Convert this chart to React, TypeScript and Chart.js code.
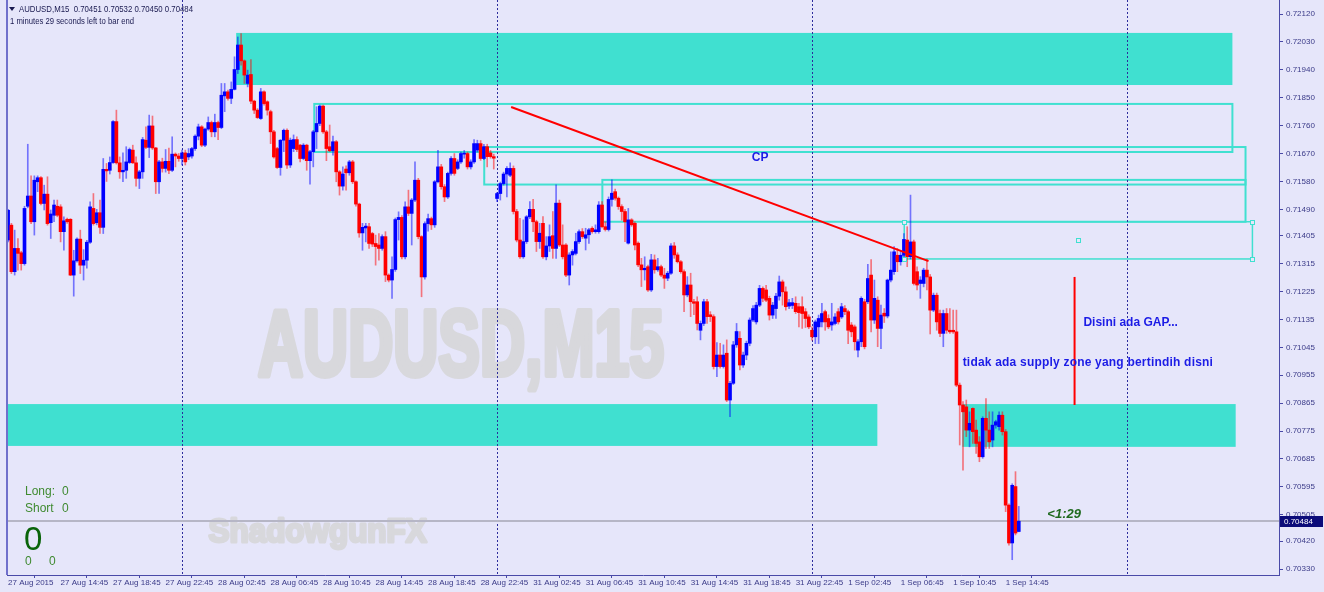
import React, { useEffect, useRef } from 'react';
import { Chart, registerables } from 'chart.js';
Chart.register(...registerables);

// ---- DATA (prices in points: price x 100000), one entry per M15 bar starting 27 Aug 2015 10:45 ----
const openPts = [
  71391,71439,71289,71364,71350,71315,71500,71533,71450,71579,
  71592,71509,71539,71447,71471,71500,71498,71418,71458,71458,
  71278,71324,71394,71310,71326,71384,71493,71447,71479,71432,
  71619,71616,71641,71773,71640,71611,71616,71641,71681,71640,
  71590,71611,71713,71690,71759,71688,71579,71643,71622,71645,
  71616,71668,71662,71654,71672,71659,71662,71686,71726,71756,
  71697,71749,71770,71740,71770,71754,71856,71869,71848,71877,
  71941,72020,71969,71896,71925,71839,71810,71783,71869,71837,
  71805,71740,71686,71625,71713,71745,71633,71686,71715,71697,
  71654,71697,71647,71676,71740,71767,71823,71740,71692,71679,
  71708,71611,71565,71620,71608,71643,71579,71507,71414,71430,
  71434,71412,71380,71375,71364,71402,71278,71262,71296,71457,
  71464,71337,71498,71477,71520,71584,71402,71272,71444,71460,
  71440,71579,71627,71563,71530,71606,71654,71622,71643,71668,
  71670,71627,71643,71681,71702,71654,71692,71672,71660,71525,
  71541,71573,71604,71600,71622,71483,71391,71337,71386,71466,
  71490,71450,71386,71445,71337,71372,71405,71364,71510,71375,
  71375,71278,71343,71348,71386,71418,71397,71408,71429,71418,
  71418,71504,71434,71425,71522,71547,71526,71499,71483,71381,
  71456,71445,71381,71311,71295,71305,71230,71327,71295,71305,
  71278,71268,71284,71372,71343,71321,71289,71214,71246,71192,
  71192,71100,71122,71192,71150,71144,70983,71020,70983,71026,
  70875,70929,71053,71074,70988,71020,71058,71133,71127,71181,
  71235,71230,71203,71149,71170,71210,71256,71224,71178,71180,
  71187,71176,71176,71160,71143,71100,71079,71111,71127,71160,
  71138,71117,71122,71160,71143,71170,71160,71117,71111,71036,
  71063,71192,71192,71278,71133,71197,71106,71155,71146,71262,
  71289,71342,71321,71342,71391,71337,71385,71289,71251,71251,
  71294,71272,71165,71213,71154,71090,71154,71100,71100,71095,
  70923,70859,70853,70778,70848,70778,70740,70692,70816,70778,
  70746,70794,70789,70826,70773,70536,70414,70596,70451,
];
const highPts = [
  71490,71445,71423,71396,71355,71500,71700,71598,71598,71598,
  71596,71568,71595,71488,71520,71520,71505,71466,71462,71460,
  71358,71398,71423,71360,71390,71514,71541,71490,71520,71654,
  71638,71659,71776,71810,71659,71672,71692,71688,71697,71659,
  71616,71722,71756,71794,71791,71690,71648,71655,71683,71688,
  71724,71672,71670,71681,71681,71686,71690,71730,71765,71760,
  71752,71788,71775,71797,71775,71896,71896,71875,71901,71982,
  72046,72057,71972,71939,71973,71842,71815,71880,71872,71840,
  71810,71745,71690,71715,71749,71750,71720,71730,71724,71700,
  71702,71700,71680,71745,71821,71826,71826,71745,71762,71726,
  71712,71615,71627,71630,71648,71648,71582,71510,71445,71445,
  71445,71416,71407,71412,71408,71418,71282,71337,71462,71482,
  71470,71514,71552,71525,71643,71590,71405,71450,71475,71465,
  71583,71680,71635,71570,71610,71660,71670,71650,71675,71680,
  71675,71650,71715,71713,71712,71700,71700,71680,71668,71545,
  71578,71610,71628,71640,71630,71490,71461,71456,71470,71515,
  71522,71455,71445,71467,71402,71440,71483,71569,71520,71440,
  71380,71350,71360,71413,71424,71428,71429,71429,71434,71440,
  71515,71515,71450,71530,71585,71555,71530,71505,71490,71493,
  71460,71450,71385,71332,71337,71310,71345,71343,71332,71310,
  71300,71290,71380,71383,71350,71325,71295,71273,71284,71200,
  71208,71130,71200,71200,71160,71150,71060,71058,71053,71069,
  70935,71064,71122,71096,71030,71065,71140,71180,71190,71245,
  71240,71245,71210,71190,71219,71275,71262,71240,71200,71203,
  71208,71187,71208,71170,71150,71111,71133,71149,71187,71165,
  71150,71187,71154,71170,71187,71180,71165,71125,71117,71070,
  71208,71200,71313,71328,71262,71208,71181,71170,71265,71353,
  71370,71364,71358,71412,71434,71536,71391,71305,71273,71300,
  71330,71280,71220,71220,71165,71165,71170,71170,71165,71165,
  70930,70870,70875,70837,70850,70810,70757,70821,70880,70837,
  70837,70810,70837,70837,70780,70540,70605,70644,70532,
];
const lowPts = [
  71385,71283,71278,71294,71294,71310,71495,71444,71407,71547,
  71504,71488,71439,71396,71450,71466,71385,71358,71445,71276,
  71210,71320,71283,71262,71300,71380,71439,71440,71412,71412,
  71580,71604,71638,71636,71590,71579,71590,71638,71638,71565,
  71557,71590,71686,71657,71683,71541,71541,71610,71610,71605,
  71612,71627,71645,71633,71633,71650,71655,71680,71714,71692,
  71692,71745,71724,71724,71715,71750,71805,71842,71831,71875,
  71928,71955,71896,71885,71831,71799,71783,71780,71826,71794,
  71702,71655,71622,71600,71676,71622,71625,71676,71676,71643,
  71650,71616,71571,71627,71686,71760,71735,71647,71676,71665,
  71579,71536,71552,71552,71600,71573,71500,71400,71358,71385,
  71364,71370,71310,71326,71358,71257,71256,71203,71290,71391,
  71330,71330,71470,71375,71515,71395,71208,71265,71420,71425,
  71432,71575,71555,71515,71525,71600,71600,71618,71638,71655,
  71620,71620,71638,71675,71648,71650,71627,71655,71620,71515,
  71520,71568,71530,71595,71475,71385,71332,71332,71380,71460,
  71418,71354,71364,71332,71327,71354,71332,71332,71370,71330,
  71273,71246,71310,71343,71380,71396,71359,71380,71413,71413,
  71413,71430,71420,71420,71500,71520,71490,71455,71386,71378,
  71435,71359,71305,71241,71262,71225,71225,71284,71290,71273,
  71235,71260,71280,71332,71317,71284,71160,71208,71144,71150,
  71101,71069,71115,71122,71128,70975,70950,70978,70978,70870,
  70821,70925,71045,70972,70980,71005,71050,71128,71120,71176,
  71192,71192,71133,71138,71138,71197,71181,71165,71170,71170,
  71154,71111,71106,71109,71105,71068,71057,71057,71111,71100,
  71105,71100,71117,71120,71138,71150,71057,71079,71036,71014,
  71047,71040,71186,71095,71122,71047,71041,71125,71140,71256,
  71280,71289,71310,71321,71305,71330,71246,71230,71203,71240,
  71230,71088,71160,71100,71079,71047,71090,71090,71090,70918,
  70730,70649,70757,70724,70735,70703,70676,70687,70719,70719,
  70724,70784,70778,70762,70515,70407,70360,70440,70450,
];
const closePts = [
  71487,71289,71364,71348,71315,71493,71533,71450,71584,71592,
  71509,71539,71444,71475,71504,71471,71418,71453,71450,71278,
  71324,71394,71310,71326,71384,71498,71444,71479,71432,71619,
  71614,71641,71773,71640,71611,71616,71643,71683,71640,71590,
  71611,71715,71690,71759,71688,71579,71643,71622,71645,71616,
  71668,71662,71654,71672,71643,71670,71686,71726,71756,71697,
  71749,71770,71740,71770,71754,71858,71869,71848,71877,71941,
  72020,71969,71923,71923,71839,71810,71786,71869,71831,71810,
  71740,71659,71625,71713,71745,71633,71713,71715,71683,71654,
  71697,71647,71676,71740,71767,71823,71740,71686,71679,71708,
  71611,71565,71604,71608,71643,71579,71507,71414,71432,71436,
  71380,71378,71370,71364,71402,71278,71262,71296,71457,71464,
  71337,71498,71477,71520,71584,71402,71272,71444,71460,71440,
  71579,71627,71563,71530,71606,71654,71606,71643,71670,71670,
  71627,71643,71702,71702,71654,71692,71660,71660,71655,71541,
  71573,71604,71622,71622,71483,71391,71337,71386,71466,71490,
  71450,71386,71413,71337,71372,71402,71364,71510,71375,71337,
  71278,71343,71354,71386,71418,71402,71408,71424,71418,71424,
  71504,71434,71425,71522,71542,71526,71499,71483,71450,71456,
  71440,71375,71311,71295,71300,71230,71327,71295,71305,71278,
  71268,71284,71372,71343,71321,71289,71214,71246,71192,71187,
  71122,71122,71192,71144,71144,70983,71020,70983,71020,70875,
  70929,71053,71096,70988,71020,71058,71133,71170,71181,71235,
  71203,71197,71149,71181,71210,71256,71224,71176,71189,71189,
  71160,71157,71154,71138,71111,71079,71127,71138,71154,71127,
  71111,71127,71143,71127,71176,71160,71100,71095,71063,71063,
  71203,71047,71267,71133,71203,71106,71149,71146,71262,71294,
  71353,71321,71342,71393,71337,71385,71251,71246,71262,71294,
  71272,71165,71213,71127,71090,71154,71100,71095,71095,70923,
  70859,70837,70778,70800,70773,70735,70692,70816,70778,70740,
  70794,70805,70826,70773,70536,70414,70600,70446,70484,
];

// time axis labels (one every 16 bars = 4 hours)
const xTickBars = [0,16,32,48,64,80,96,112,128,144,160,176,192,208,224,240,256,272,288,304];
const xTickLabels = [
  '27 Aug 2015','27 Aug 14:45','27 Aug 18:45','27 Aug 22:45','28 Aug 02:45','28 Aug 06:45',
  '28 Aug 10:45','28 Aug 14:45','28 Aug 18:45','28 Aug 22:45','31 Aug 02:45','31 Aug 06:45',
  '31 Aug 10:45','31 Aug 14:45','31 Aug 18:45','31 Aug 22:45','1 Sep 02:45','1 Sep 06:45',
  '1 Sep 10:45','1 Sep 14:45',
];
const yTickValues = [
  0.72120,0.72030,0.71940,0.71850,0.71760,0.71670,0.71580,0.71490,0.71405,0.71315,0.71225,
  0.71135,0.71045,0.70955,0.70865,0.70775,0.70685,0.70595,0.70505,0.70420,0.70330,
];
// day separators (bar index of 00:00)
const daySeparatorBars = [53, 149, 245, 341];
// filled supply/demand zones: [fromBar, toBar, topPrice, bottomPrice]
const filledZones = [
  [69.5, 373.1, 0.72059, 0.71891],
  [-0.4, 264.9, 0.70862, 0.70727],
  [290.8, 374.1, 0.70862, 0.70724],
];
// outlined zones
const outlineZones = [
  [93.3, 373.1, 0.71830, 0.71675],
  [145.1, 377.1, 0.71691, 0.71570],
  [181.1, 377.1, 0.71585, 0.71450],
];
const selectedZone = [273.1, 379.2, 0.71450, 0.71330];
const trendLine = [[153.3, 0.71820], [280.5, 0.71323]];
const gapLine = [[325.0, 0.71272], [325.0, 0.70859]];

const X_MIN = -0.335;
const X_MAX = 387.3;
const Y_MIN = 0.703107;
const Y_MAX = 0.721652;

const BG = '#E6E6FA';
const AXIS = '#4a4aa8';
const TICK_TXT = '#3a3a88';
const TURQ = '#40E0D0';
const FONT = '"Liberation Sans", Arial, sans-serif';

const n = Math.min(openPts.length, highPts.length, lowPts.length, closePts.length);
const idx = Array.from({ length: n }, (_, i) => i);
const P = (v: number) => v / 100000;
const isUp = (i: number) => closePts[i] >= openPts[i];

function stretchText(ctx: CanvasRenderingContext2D, text: string, left: number, baseline: number, width: number, size: number, color: string, weight: number) {
  ctx.save();
  ctx.font = `bold ${size}px ${FONT}`;
  const w = ctx.measureText(text).width + weight;
  ctx.translate(left + weight / 2, baseline - weight / 2);
  ctx.scale(width / w, 1);
  ctx.fillStyle = color;
  ctx.strokeStyle = color;
  ctx.lineWidth = weight;
  ctx.lineJoin = 'round';
  ctx.textBaseline = 'alphabetic';
  ctx.textAlign = 'left';
  ctx.fillText(text, 0, 0);
  ctx.strokeText(text, 0, 0);
  ctx.restore();
}

const overlay = {
  id: 'mt4overlay',
  beforeDraw(chart: any) {
    const ctx = chart.ctx;
    ctx.save();
    ctx.fillStyle = BG;
    ctx.fillRect(0, 0, chart.width, chart.height);
    ctx.restore();
  },
  beforeDatasetsDraw(chart: any) {
    const { ctx, chartArea: a, scales } = chart;
    const X = (v: number) => scales.x.getPixelForValue(v);
    const Y = (v: number) => scales.y.getPixelForValue(v);
    ctx.save();
    ctx.beginPath();
    ctx.rect(a.left, a.top, a.right - a.left, a.bottom - a.top);
    ctx.clip();
    // watermarks
    stretchText(ctx, 'AUDUSD,M15', 255, 378, 410, 92, '#d8d8dc', 6);
    stretchText(ctx, 'ShadowgunFX', 207, 543, 221, 34, '#d8d8dc', 3);
    // filled zones
    ctx.fillStyle = TURQ;
    for (const z of filledZones) {
      const x1 = X(z[0]), x2 = X(z[1]), y1 = Y(z[2]), y2 = Y(z[3]);
      ctx.fillRect(x1, y1, x2 - x1, y2 - y1);
    }
    // outline zones
    ctx.strokeStyle = TURQ;
    ctx.lineWidth = 2;
    for (const z of outlineZones) {
      const x1 = X(z[0]), x2 = X(z[1]), y1 = Y(z[2]), y2 = Y(z[3]);
      ctx.strokeRect(x1, y1, x2 - x1, y2 - y1);
    }
    {
      const z = selectedZone;
      const x1 = X(z[0]), x2 = X(z[1]), y1 = Y(z[2]), y2 = Y(z[3]);
      ctx.lineWidth = 1.5;
      ctx.strokeRect(x1, y1, x2 - x1, y2 - y1);
    }
    // day separators
    ctx.strokeStyle = '#2c2c9c';
    ctx.lineWidth = 1;
    ctx.setLineDash([2, 2]);
    for (const b of daySeparatorBars) {
      const x = Math.round(X(b)) + 0.5;
      ctx.beginPath();
      ctx.moveTo(x, a.top);
      ctx.lineTo(x, a.bottom);
      ctx.stroke();
    }
    ctx.setLineDash([]);
    // bid line
    const by = Math.round(Y(P(closePts[n - 1])));
    ctx.fillStyle = '#b6b6c6';
    ctx.fillRect(a.left, by - 1, a.right - a.left, 2);
    ctx.restore();
  },
  afterDatasetsDraw(chart: any) {
    const { ctx, scales } = chart;
    const X = (v: number) => scales.x.getPixelForValue(v);
    const Y = (v: number) => scales.y.getPixelForValue(v);
    ctx.save();
    // trend line
    ctx.strokeStyle = '#ff0000';
    ctx.lineWidth = 2;
    ctx.beginPath();
    ctx.moveTo(X(trendLine[0][0]), Y(trendLine[0][1]));
    ctx.lineTo(X(trendLine[1][0]), Y(trendLine[1][1]));
    ctx.stroke();
    ctx.beginPath();
    ctx.moveTo(X(gapLine[0][0]), Y(gapLine[0][1]));
    ctx.lineTo(X(gapLine[1][0]), Y(gapLine[1][1]));
    ctx.stroke();
    // handles of selected zone
    const z = selectedZone;
    const hs = [[z[0], z[2]], [z[0], z[3]], [z[1], z[2]], [z[1], z[3]], [(z[0] + z[1]) / 2, (z[2] + z[3]) / 2]];
    ctx.lineWidth = 1;
    for (const h of hs) {
      const x = Math.round(X(h[0])), y = Math.round(Y(h[1]));
      ctx.fillStyle = BG;
      ctx.fillRect(x - 2, y - 2, 4, 4);
      ctx.strokeStyle = TURQ;
      ctx.strokeRect(x - 2 + 0.5, y - 2 + 0.5, 4, 4);
    }
    // annotation texts
    ctx.fillStyle = '#1c1ce6';
    ctx.textBaseline = 'middle';
    ctx.font = `bold 12px ${FONT}`;
    ctx.textAlign = 'center';
    ctx.fillText('CP', X(229.2), Y(0.71656));
    ctx.textAlign = 'left';
    ctx.fillText('Disini ada GAP...', X(327.7), Y(0.71123));
    (ctx as any).letterSpacing = '0.2px';
    ctx.fillText('tidak ada supply zone yang bertindih disni', X(290.9), Y(0.70994));
    (ctx as any).letterSpacing = '0px';
    ctx.fillStyle = '#1f6a1f';
    ctx.font = `italic bold 13px ${FONT}`;
    ctx.fillText('<1:29', X(316.7), Y(0.70507));
    // trade panel
    ctx.fillStyle = '#3f8a30';
    ctx.font = `12px ${FONT}`;
    ctx.fillText('Long:', 25, 492);
    ctx.fillText('0', 62, 492);
    ctx.fillText('Short', 25, 509);
    ctx.fillText('0', 62, 509);
    ctx.fillText('0', 25, 562);
    ctx.fillText('0', 49, 562);
    ctx.fillStyle = '#0a640a';
    ctx.font = `33px ${FONT}`;
    ctx.textBaseline = 'alphabetic';
    ctx.fillText('0', 24, 550);
    ctx.restore();
  },
  afterDraw(chart: any) {
    const { ctx, chartArea: a, scales } = chart;
    const Y = (v: number) => scales.y.getPixelForValue(v);
    ctx.save();
    // left frame line
    ctx.fillStyle = '#7070cc';
    ctx.fillRect(a.left - 1, a.top, 2, a.bottom - a.top);
    // bid price box
    const by = Math.round(Y(P(closePts[n - 1])));
    ctx.fillStyle = '#0c0c7a';
    ctx.fillRect(a.right + 1, by - 5, 43, 11);
    ctx.fillStyle = '#ffffff';
    ctx.font = `8px ${FONT}`;
    ctx.textBaseline = 'middle';
    ctx.textAlign = 'left';
    ctx.fillText((closePts[n - 1] / 100000).toFixed(5), a.right + 5, by + 0.5);
    // header
    ctx.fillStyle = '#1a1a50';
    ctx.beginPath();
    ctx.moveTo(9, 7); ctx.lineTo(15, 7); ctx.lineTo(12, 11); ctx.closePath();
    ctx.fill();
    ctx.font = `9px ${FONT}`;
    ctx.textBaseline = 'middle';
    const hdr = 'AUDUSD,M15  ' + [openPts[n - 1], highPts[n - 1], lowPts[n - 1], closePts[n - 1]].map(v => (v / 100000).toFixed(5)).join(' ');
    ctx.fillText(hdr, 19, 9.5, 174);
    ctx.fillText('1 minutes 29 seconds left to bar end', 10, 21.5, 124);
    ctx.restore();
  },
};

export default function App() {
  const ref = useRef<HTMLCanvasElement>(null);
  useEffect(() => {
    const wick = idx.map(i => ({ x: i, y: [P(lowPts[i]), P(highPts[i])] }));
    const body = idx.map(i => ({ x: i, y: [P(openPts[i]), P(closePts[i])] }));
    const chart = new Chart(ref.current as HTMLCanvasElement, {
      type: 'bar',
      data: {
        datasets: [
          {
            label: 'body', data: body as any, order: 0, grouped: false, barThickness: 3, minBarLength: 1,
            borderWidth: 0,
            backgroundColor: idx.map(i => (isUp(i) ? '#0000ff' : '#ff0000')),
          } as any,
          {
            label: 'wick', data: wick as any, order: 1, grouped: false, barThickness: 1,
            borderWidth: 0,
            backgroundColor: idx.map(i => (isUp(i) ? 'rgba(0,0,255,0.5)' : 'rgba(255,0,0,0.5)')),
          } as any,
        ],
      },
      options: {
        animation: false,
        responsive: false,
        devicePixelRatio: 1,
        layout: { padding: { left: 7, top: 0, right: 0, bottom: 0 } },
        plugins: { legend: { display: false }, tooltip: { enabled: false } },
        scales: {
          x: {
            type: 'linear', min: X_MIN, max: X_MAX, offset: false,
            afterBuildTicks: (s: any) => { s.ticks = xTickBars.map(v => ({ value: v })); },
            afterFit: (s: any) => { s.height = 17; s.paddingLeft = 0; s.paddingRight = 0; },
            grid: { drawOnChartArea: false, drawTicks: true, tickLength: 3, color: AXIS },
            border: { display: true, color: AXIS, width: 1 },
            ticks: {
              autoSkip: false, maxRotation: 0, minRotation: 0, align: 'start', padding: 0,
              color: TICK_TXT, font: { family: FONT, size: 8 },
              callback: (v: any) => { const k = xTickBars.indexOf(Number(v)); return k >= 0 ? xTickLabels[k] : ''; },
            },
          },
          y: {
            type: 'linear', position: 'right', min: Y_MIN, max: Y_MAX,
            afterBuildTicks: (s: any) => { s.ticks = yTickValues.map(v => ({ value: v })); },
            afterFit: (s: any) => { s.width = 45; s.paddingTop = 0; s.paddingBottom = 0; },
            grid: { drawOnChartArea: false, drawTicks: true, tickLength: 4, color: AXIS },
            border: { display: true, color: AXIS, width: 1 },
            ticks: {
              padding: 3, color: TICK_TXT, font: { family: FONT, size: 8 },
              callback: (v: any) => Number(v).toFixed(5),
            },
          },
        },
      } as any,
      plugins: [overlay as any],
    });
    return () => chart.destroy();
  }, []);
  return (
    <div style={{ position: 'fixed', left: 0, top: 0, width: 1324, height: 592, background: BG }}>
      <canvas ref={ref} width={1324} height={592} style={{ display: 'block', width: 1324, height: 592 }} />
    </div>
  );
}
